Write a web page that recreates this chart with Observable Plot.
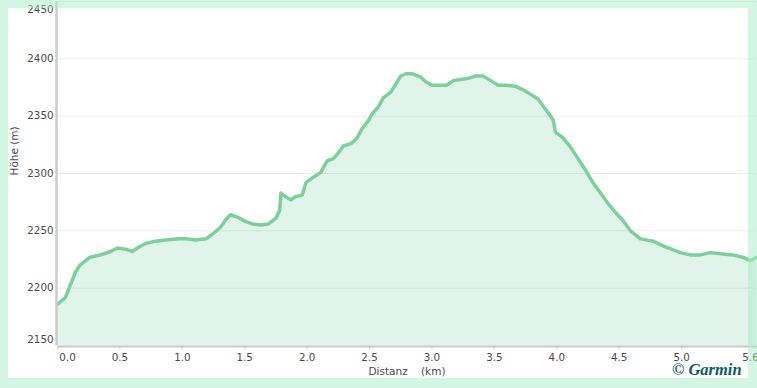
<!DOCTYPE html>
<html>
<head>
<meta charset="utf-8">
<script src="https://cdn.jsdelivr.net/npm/d3@7"></script>
<script src="https://cdn.jsdelivr.net/npm/@observablehq/plot@0.6"></script>
<style>
  html, body { margin: 0; padding: 0; background: #fff; }
  #wrap { position: relative; width: 757px; height: 388px; overflow: hidden; background: #fff; }
  #frame { position: absolute; left: 0; top: 0; width: 757px; height: 388px; box-sizing: border-box;
           border-style: solid; border-color: rgba(168,238,199,0.5);
           border-width: 8px 9px 10px 8px; pointer-events: none; }
  #credit { position: absolute; left: 672px; top: 362px; line-height: 1; font-family: "Liberation Serif", serif;
            font-weight: bold; font-style: italic; font-size: 16.5px; color: #0b5d5e; }
</style>
</head>
<body>
<div id="wrap"><div id="chart"></div><div id="credit">© Garmin</div><div id="frame"></div></div>
<script>
const distKm = [0, 0.064, 0.10, 0.144, 0.18, 0.26, 0.345, 0.425, 0.48, 0.545, 0.60, 0.64, 0.705, 0.785, 0.865, 0.97, 1.03, 1.105, 1.19, 1.24, 1.305, 1.35, 1.385, 1.44, 1.51, 1.56, 1.63, 1.69, 1.75, 1.78, 1.79, 1.81, 1.87, 1.91, 1.96, 1.99, 2.04, 2.11, 2.16, 2.21, 2.25, 2.29, 2.35, 2.40, 2.44, 2.49, 2.52, 2.57, 2.61, 2.67, 2.71, 2.75, 2.79, 2.84, 2.91, 2.95, 3.00, 3.07, 3.12, 3.17, 3.23, 3.29, 3.35, 3.41, 3.47, 3.53, 3.59, 3.67, 3.73, 3.79, 3.85, 3.91, 3.97, 3.99, 4.05, 4.11, 4.17, 4.23, 4.29, 4.35, 4.41, 4.47, 4.53, 4.59, 4.67, 4.77, 4.87, 4.99, 5.07, 5.15, 5.23, 5.31, 5.41, 5.49, 5.55, 5.6];
const elevM = [2186, 2192, 2202, 2214, 2220, 2227, 2229, 2232, 2235, 2234, 2232, 2235, 2239, 2241, 2242, 2243, 2243, 2242, 2243, 2247, 2253, 2260, 2264, 2262, 2258, 2256, 2255, 2256, 2261, 2268, 2283, 2281, 2277, 2280, 2281, 2292, 2296, 2301, 2311, 2313, 2318, 2324, 2326, 2331, 2339, 2346, 2352, 2358, 2366, 2371, 2378, 2385, 2387, 2387, 2384, 2380, 2377, 2377, 2377, 2381, 2382, 2383, 2385, 2385, 2381, 2377, 2377, 2376, 2373, 2369, 2365, 2356, 2347, 2336, 2331, 2323, 2313, 2303, 2292, 2283, 2274, 2266, 2259, 2250, 2243, 2241, 2236, 2231, 2229, 2229, 2231, 2230, 2229, 2227, 2224, 2227];
const xTicks = [0, 0.5, 1.0, 1.5, 2.0, 2.5, 3.0, 3.5, 4.0, 4.5, 5.0, 5.6];
const yTicks = [2150, 2200, 2250, 2300, 2350, 2400, 2450];
const xLabel = "Distanz\u00a0\u00a0\u00a0 (km)";
const yLabel = "Höhe (m)";

const data = distKm.map((d, i) => ({d, e: elevM[i]}));
const fmt1 = d => d.toFixed(1);
const fmt0 = d => String(d);
const txt = {fill: "#4a4a4a", fontSize: 10.3};

const chart = Plot.plot({
  width: 757, height: 388,
  marginLeft: 57, marginRight: 1, marginTop: 1, marginBottom: 43,
  style: {fontFamily: "DejaVu Sans, Verdana, sans-serif", fontSize: "10px", background: "transparent", overflow: "visible"},
  x: {domain: [xTicks[0], xTicks[xTicks.length - 1]]},
  y: {domain: [yTicks[0], yTicks[yTicks.length - 1]]},
  marks: [
    Plot.areaY(data, {x: "d", y: "e", fill: "#e1f4e9", clip: true}),
    Plot.gridY(yTicks, {stroke: "#000", strokeOpacity: 0.07, strokeWidth: 1}),
    Plot.line(data, {x: "d", y: "e", stroke: "#7dd09b", strokeWidth: 3.5, strokeLinejoin: "round", strokeLinecap: "round"}),
    Plot.ruleX([xTicks[0]], {stroke: "#cbcbcb", strokeWidth: 2.5, dx: -1}),
    Plot.ruleY([yTicks[0]], {stroke: "#cbcbcb", strokeWidth: 2, dy: 1}),
    Plot.axisX(xTicks, {tickSize: 3, stroke: "#cbcbcb", tickFormat: () => "", label: null, dy: 1}),
    Plot.axisX(xTicks.slice(1, -1), {tickSize: 0, tickPadding: 8, tickFormat: fmt1, label: null, ...txt}),
    Plot.axisX([xTicks[0]], {tickSize: 0, tickPadding: 8, tickFormat: fmt1, label: null, dx: 10, ...txt}),
    Plot.axisX([xTicks[xTicks.length - 1]], {tickSize: 0, tickPadding: 8, tickFormat: fmt1, label: null, dx: -6, ...txt}),
    Plot.axisY(yTicks.slice(1, -1), {tickSize: 0, tickPadding: 4, tickFormat: fmt0, label: null, ...txt}),
    Plot.axisY([yTicks[0]], {tickSize: 0, tickPadding: 4, tickFormat: fmt0, label: null, dy: -6, ...txt}),
    Plot.axisY([yTicks[yTicks.length - 1]], {tickSize: 0, tickPadding: 4, tickFormat: fmt0, label: null, dy: 8, ...txt}),
    Plot.text([xLabel], {frameAnchor: "bottom", dy: 29, fill: "#4a4a4a", fontSize: 10.5}),
    Plot.text([yLabel], {frameAnchor: "left", rotate: -90, dx: -43, dy: 2, fill: "#4a4a4a", fontSize: 10.5})
  ]
});
document.getElementById("chart").appendChild(chart);
</script>
</body>
</html>
